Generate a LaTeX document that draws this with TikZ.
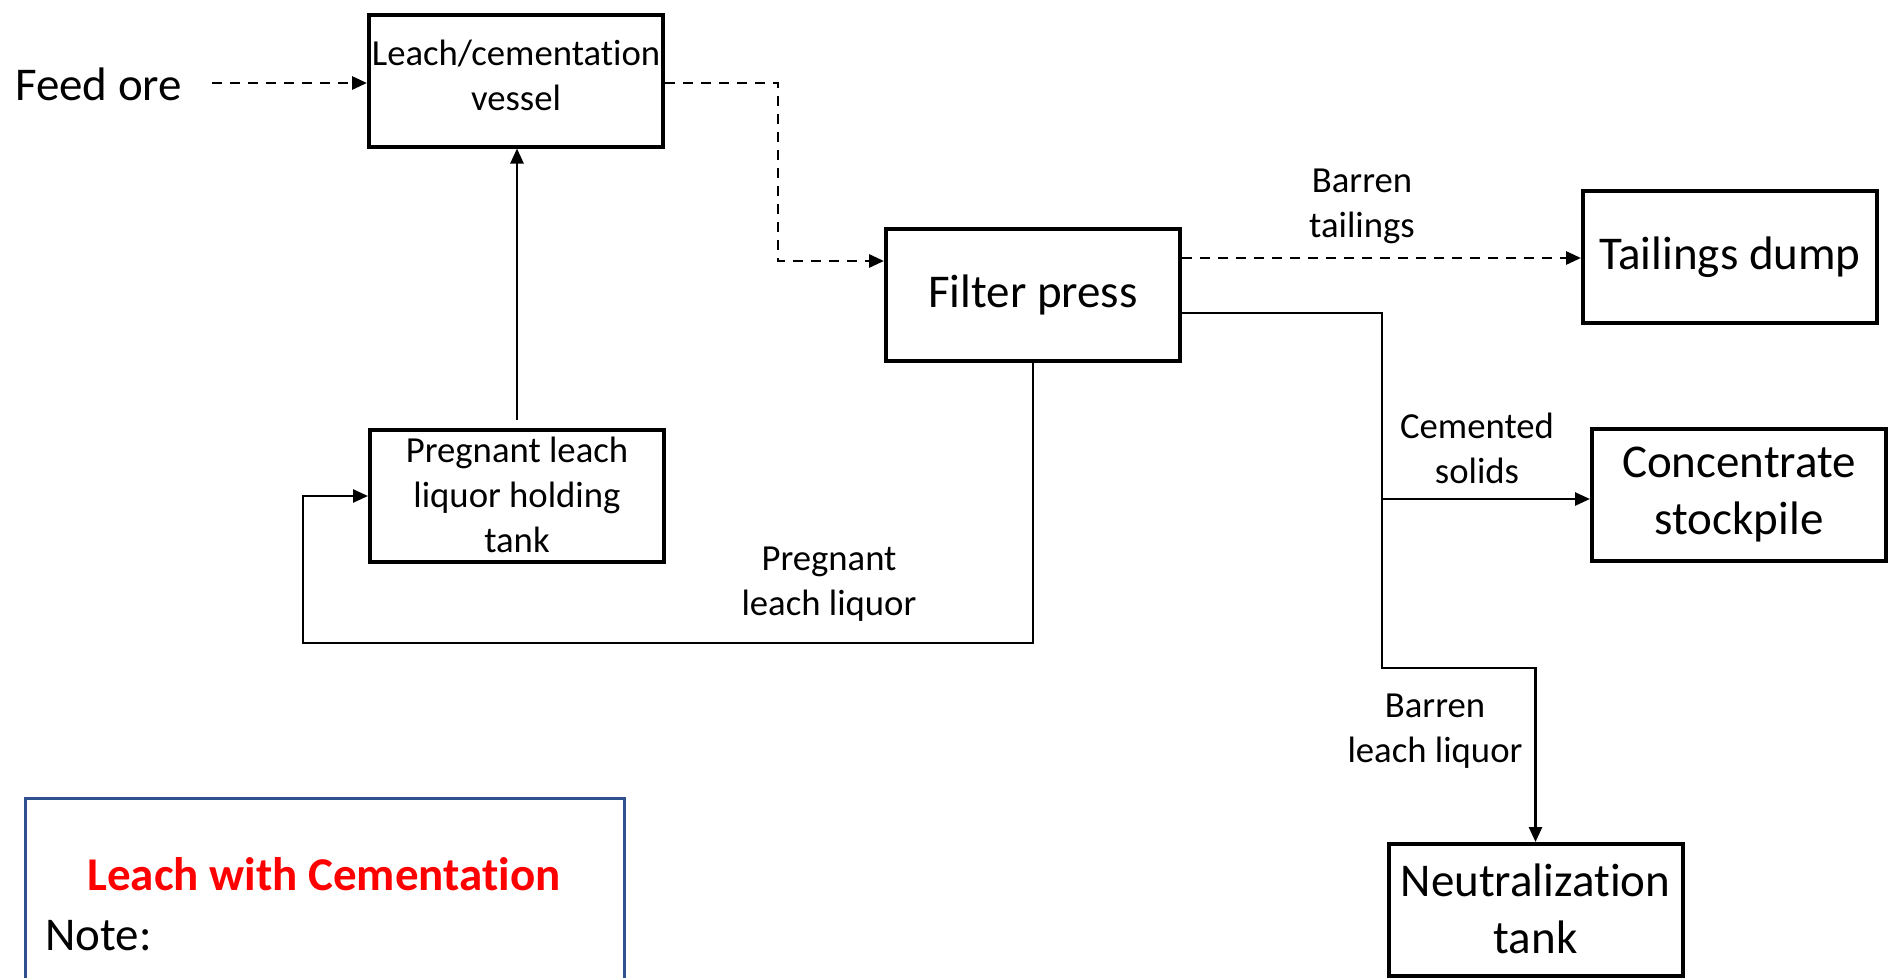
\documentclass[tikz,border=0pt]{standalone}
\usepackage{fontspec}
\setmainfont{Carlito}[Ligatures=NoCommon]
\usetikzlibrary{arrows.meta}
\definecolor{noteblue}{RGB}{47,82,143}
\definecolor{titlered}{RGB}{255,0,0}
\begin{document}
\begin{tikzpicture}[x=1pt,y=-1pt,
  box/.style={draw=black, line width=4pt, minimum width=294pt, minimum height=132pt, inner sep=0pt},
  small/.style={font=\fontsize{36.7}{45}\selectfont, align=center, inner sep=0pt},
  big/.style={font=\fontsize{47}{57}\selectfont, align=center, inner sep=0pt},
  flow/.style={line width=2.6pt, -{Triangle[length=15pt,width=13pt]}},
  flowdash/.style={flow, line width=2.9pt, dash pattern=on 10pt off 8pt},
  stream/.style={line width=2.5pt}
]
\useasboundingbox (0,0) rectangle (1889,977);

% boxes
\node[box] (vessel) at (516,80.5) {};
\node[small] (vesselT) at (516,75) {Leach/cementation\\vessel};
\node[box] (hold) at (517,496) {};
\node[small] (holdT) at (517,495) {Pregnant leach\\liquor holding\\tank};
\node[box] (fp) at (1033,295) {};
\node[big] (fpT) at (1033,295) {Filter press};
\node[box] (td) at (1730,257) {};
\node[big] (tdT) at (1730,257) {Tailings dump};
\node[box] (conc) at (1739,495) {};
\node[big] (concT) at (1739,495) {Concentrate\\stockpile};
\node[box] (neut) at (1535.5,910) {};
\node[big] (neutT) at (1535.5,909) {Neutralization\\tank};

% free text
\node[big, anchor=base west] (feed) at (15,100) {Feed ore};
\node[small] (lblBT) at (1362,206) {Barren\\tailings};
\node[small] (lblCS) at (1477,448) {Cemented\\solids};
\node[small] (lblPL) at (829,584) {Pregnant\\leach liquor};
\node[small] (lblBL) at (1435,731) {Barren\\leach liquor};

% connectors
\coordinate (feedout) at (212,83);
\draw[flowdash] (feedout) -- (feedout -| vessel.west);

\coordinate (v1) at (778,83);
\coordinate (v2) at (778,261);
\draw[flowdash] (vessel.east |- v1) -- (v1) -- (v2) -- (v2 -| fp.west);

\coordinate (t1) at (1300,258);
\draw[flowdash] (fp.east |- t1) -- (t1 -| td.west);

\coordinate (j1) at (1382,313);
\coordinate (j2) at (1382,499);
\coordinate (j3) at (1382,668);
\draw[flow] (fp.east |- j1) -- (j1) -- (j3) -| (neut.north);
\draw[flow] (j2) -- (j2 -| conc.west);

\coordinate (p1) at (303,643);
\draw[flow] (fp.south) |- (p1) |- (hold.west);

\draw[flow, shorten <=8pt] (hold.north) -- (hold.north |- vessel.south);

% note box
\node[draw=noteblue, line width=2.5pt, minimum width=599pt, minimum height=320pt, anchor=north west, inner sep=0pt] (note) at (24,797) {};
\node[font=\fontsize{47}{57}\selectfont\bfseries, text=titlered, anchor=base, inner sep=0pt] (title) at (324,890) {Leach with Cementation};
\node[big, anchor=base west] (notelbl) at (45,950) {Note:};
\end{tikzpicture}
\end{document}
